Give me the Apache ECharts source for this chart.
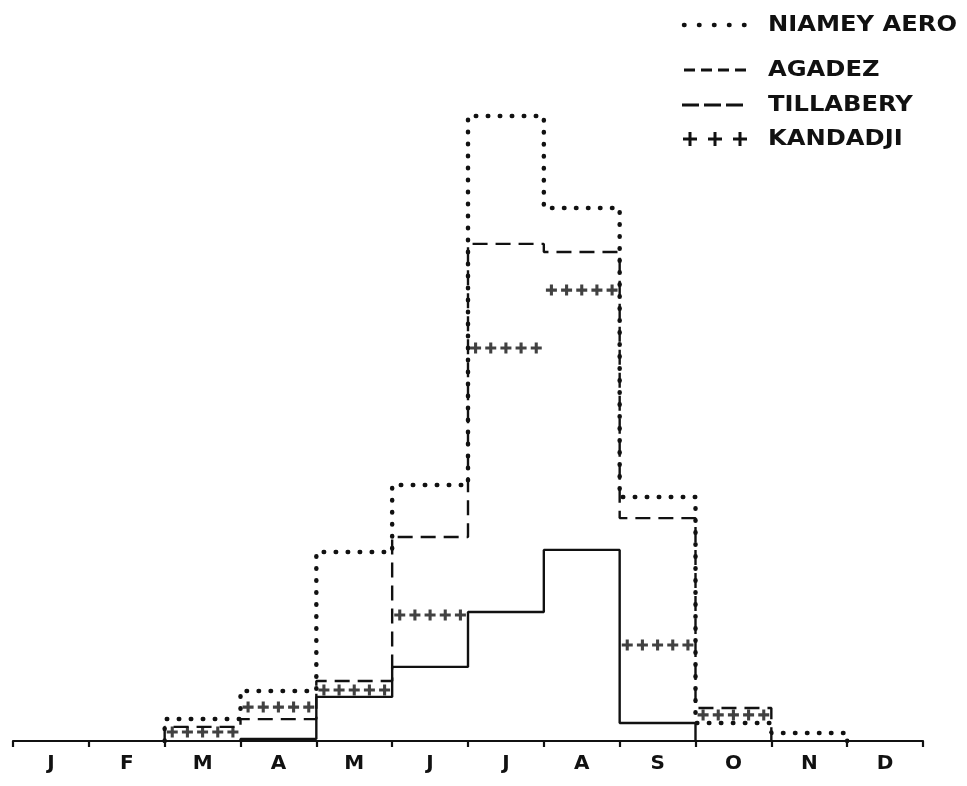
<!DOCTYPE html>
<html>
<head>
<meta charset="utf-8">
<script src="https://cdn.jsdelivr.net/npm/echarts@6/dist/echarts.min.js"></script>
<style>
  html, body { margin: 0; padding: 0; background: #fff; }
  #chart { width: 967px; height: 786px; }
</style>
</head>
<body>
<div id="chart"></div>
<script>
// Monthly values (Jan..Dec), same unit for all stations
const months = ['J', 'F', 'M', 'A', 'M', 'J', 'J', 'A', 'S', 'O', 'N', 'D'];
const niameyAero = [0, 0, 7.3, 16.7, 63, 85.3, 208.3, 177.7, 81.3, 6, 2.7, 0];
const agadez     = [0, 0, 0, 0.7, 14.7, 24.7, 43, 63.7, 6, 0, 0, 0];
const tillabery  = [0, 0, 4.7, 7.3, 20, 68, 165.7, 163, 74.3, 11, 0, 0];
const kandadji   = [0, 0, 3, 11.3, 17, 42, 131, 150.3, 32, 8.7, 0, 0];
const seriesNames = ['NIAMEY AERO', 'AGADEZ', 'TILLABERY', 'KANDADJI'];

// Step outline of one station: rises from the base at its first month,
// stays flat across each month, falls back to the base after its last month.
function stepPoints(vals) {
  let first = vals.findIndex(v => v > 0);
  let last = vals.length - 1;
  while (last >= 0 && !(vals[last] > 0)) last--;
  const pts = [[first, 0]];
  for (let m = first; m <= last; m++) pts.push([m, vals[m]]);
  pts.push([last + 1, vals[last]]);
  pts.push([last + 1, 0]);
  return pts;
}

// Plus marks spread along each month's level
function plusPoints(vals, perMonth) {
  const pts = [];
  vals.forEach((v, m) => {
    if (v > 0) {
      for (let k = 0; k < perMonth; k++) pts.push([m + (k + 0.5) / perMonth, v]);
    }
  });
  return pts;
}

const INK = '#111';
const PLUS = 'path://M3.6,0H6.4V3.6H10V6.4H6.4V10H3.6V6.4H0V3.6H3.6Z';

const chart = echarts.init(document.getElementById('chart'), null, { renderer: 'canvas' });

// legend drawn as graphics so each sample shows its own stroke pattern
const legendX0 = 684, legendX1 = 746, textX = 768;
const legendRows = [25, 70, 105, 139];
const legendGraphics = [];
legendGraphics.push({
  type: 'line', shape: { x1: legendX0, y1: legendRows[0], x2: legendX1, y2: legendRows[0] },
  style: { stroke: INK, lineWidth: 4.5, lineCap: 'round', lineDash: [0.5, 14.5] }
});
legendGraphics.push({
  type: 'line', shape: { x1: legendX0, y1: legendRows[1], x2: legendX1, y2: legendRows[1] },
  style: { stroke: INK, lineWidth: 3, lineDash: [11, 6] }
});
legendGraphics.push({
  type: 'line', shape: { x1: legendX0 - 2, y1: legendRows[2], x2: legendX1, y2: legendRows[2] },
  style: { stroke: INK, lineWidth: 3, lineDash: [17, 5] }
});
[0, 1, 2].forEach(i => {
  const cx = legendX0 + 6 + i * 25, cy = legendRows[3];
  legendGraphics.push({ type: 'line', shape: { x1: cx - 7, y1: cy, x2: cx + 7, y2: cy }, style: { stroke: INK, lineWidth: 3 } });
  legendGraphics.push({ type: 'line', shape: { x1: cx, y1: cy - 7, x2: cx, y2: cy + 7 }, style: { stroke: INK, lineWidth: 3 } });
});
seriesNames.forEach((name, i) => {
  legendGraphics.push({
    type: 'text', x: textX, y: legendRows[i], scaleX: 1.1,
    style: {
      text: name, fill: INK, font: 'bold 22px "DejaVu Sans"',
      verticalAlign: 'middle', align: 'left'
    }
  });
});

chart.setOption({
  backgroundColor: '#fff',
  animation: false,
  grid: { left: 13, right: 44, top: 21, bottom: 45 },
  xAxis: [
    {
      type: 'value', min: 0, max: 12, interval: 1,
      axisLine: { show: true, lineStyle: { color: INK, width: 2.2 } },
      axisTick: { show: true, length: 6, lineStyle: { color: INK, width: 2.2 } },
      axisLabel: { show: false },
      splitLine: { show: false }
    },
    {
      type: 'category', data: months, position: 'bottom', boundaryGap: true,
      axisLine: { show: false }, axisTick: { show: false }, splitLine: { show: false },
      axisLabel: { color: INK, fontSize: 20, fontWeight: 'bold', fontFamily: 'DejaVu Sans', margin: 13 }
    }
  ],
  yAxis: { type: 'value', min: 0, max: 240, show: false },
  graphic: legendGraphics,
  series: [
    {
      name: seriesNames[0], type: 'line', step: 'end', xAxisIndex: 0,
      data: stepPoints(niameyAero), showSymbol: false,
      lineStyle: { color: INK, width: 4.5, type: [0.5, 11.5], cap: 'round' }
    },
    {
      name: seriesNames[1], type: 'line', step: 'end', xAxisIndex: 0,
      data: stepPoints(agadez), showSymbol: false,
      lineStyle: { color: INK, width: 2.4, type: 'solid' }
    },
    {
      name: seriesNames[2], type: 'line', step: 'end', xAxisIndex: 0,
      data: stepPoints(tillabery), showSymbol: false,
      lineStyle: { color: INK, width: 2.4, type: [15, 8] }
    },
    {
      name: seriesNames[3], type: 'scatter', xAxisIndex: 0,
      data: plusPoints(kandadji, 5), symbol: PLUS, symbolSize: 11,
      itemStyle: { color: INK }
    }
  ]
});
</script>
</body>
</html>
